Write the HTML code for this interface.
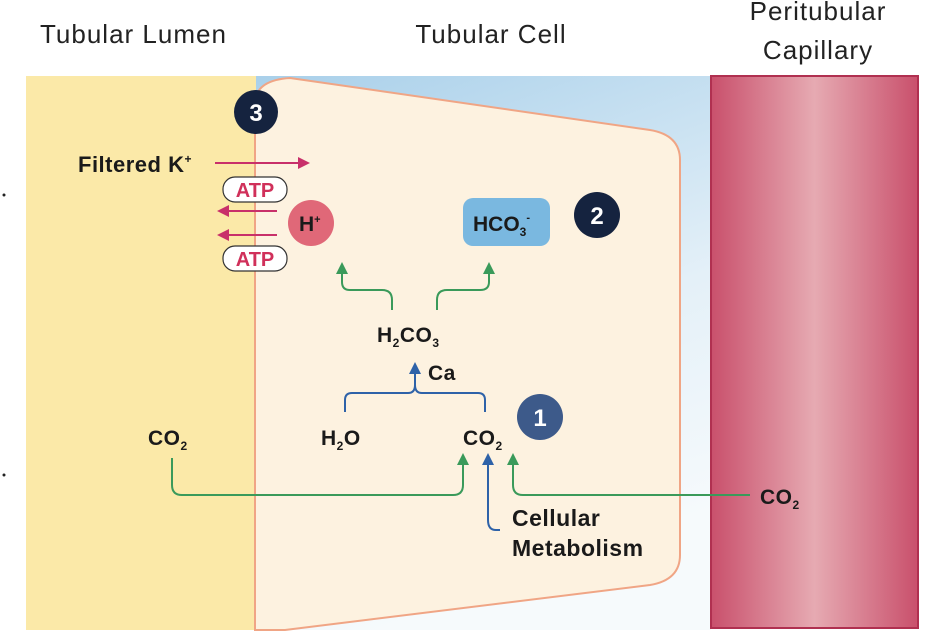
<!DOCTYPE html>
<html><head><meta charset="utf-8"><style>
html,body{margin:0;padding:0;background:#fff;}
svg{display:block;font-family:"Liberation Sans",sans-serif;}
</style></head><body>
<svg width="928" height="642" viewBox="0 0 928 642" xmlns="http://www.w3.org/2000/svg">
<defs>
<linearGradient id="bg" x1="0" y1="0" x2="0.3" y2="1">
<stop offset="0" stop-color="#a9d0ea"/><stop offset="0.6" stop-color="#e4f0f8"/><stop offset="1" stop-color="#f6fafc"/>
</linearGradient>
<linearGradient id="cap" x1="0" y1="0" x2="1" y2="0">
<stop offset="0" stop-color="#c9506c"/><stop offset="0.5" stop-color="#e6aab2"/><stop offset="1" stop-color="#c9506c"/>
</linearGradient>
<marker id="ag" markerWidth="12" markerHeight="12" refX="4" refY="6" orient="auto" markerUnits="userSpaceOnUse"><path d="M0,0 L12,6 L0,12 Z" fill="#3a9a5a"/></marker>
<marker id="ab" markerWidth="12" markerHeight="12" refX="4" refY="6" orient="auto" markerUnits="userSpaceOnUse"><path d="M0,0 L12,6 L0,12 Z" fill="#2e62a8"/></marker>
<marker id="ar" markerWidth="12" markerHeight="12" refX="4" refY="6" orient="auto" markerUnits="userSpaceOnUse"><path d="M0,0 L12,6 L0,12 Z" fill="#c8306a"/></marker>
</defs>
<g font-size="26" fill="#222" letter-spacing="1">
<text x="40" y="43">Tubular Lumen</text>
<text x="491" y="43" text-anchor="middle">Tubular Cell</text>
<text x="818" y="20" text-anchor="middle">Peritubular</text>
<text x="818" y="59" text-anchor="middle">Capillary</text>
</g>
<circle cx="4" cy="195" r="1.5" fill="#222"/><circle cx="4" cy="475" r="1.5" fill="#222"/>
<rect x="255" y="76" width="456" height="554" fill="url(#bg)"/>
<rect x="26" y="76" width="230" height="554" fill="#fbe9a8"/>
<path d="M255 630 V100 Q258 80 290 78 L650 130 Q680 135 680 160 V555 Q680 580 650 585 L285 630 Z" fill="#fdf2e0" stroke="#f0a585" stroke-width="2"/>
<rect x="711" y="76" width="207" height="552" fill="url(#cap)" stroke="#b03050" stroke-width="2"/>
<g font-weight="bold" fill="#fff" font-size="24" text-anchor="middle">
<circle cx="256" cy="112" r="22" fill="#15233f"/><text x="256" y="121">3</text>
<circle cx="597" cy="215" r="23" fill="#15233f"/><text x="597" y="224">2</text>
<circle cx="540" cy="417" r="23" fill="#3d5a8a"/><text x="540" y="426">1</text>
</g>
<g stroke="#c8306a" stroke-width="2" fill="none">
<path d="M215 163 H302" marker-end="url(#ar)"/>
<path d="M277 211 H225" marker-end="url(#ar)"/>
<path d="M277 235 H225" marker-end="url(#ar)"/>
</g>
<text x="78" y="172" font-size="22" font-weight="bold" fill="#1a1a1a" letter-spacing="0.5">Filtered K<tspan font-size="12" dy="-9">+</tspan></text>
<rect x="223" y="177" width="64" height="25" rx="12" fill="#fff" stroke="#333" stroke-width="1.2"/>
<text x="255" y="197" text-anchor="middle" font-size="20" font-weight="bold" fill="#d0305a">ATP</text>
<rect x="223" y="246" width="64" height="25" rx="12" fill="#fff" stroke="#333" stroke-width="1.2"/>
<text x="255" y="266" text-anchor="middle" font-size="20" font-weight="bold" fill="#d0305a">ATP</text>
<circle cx="311" cy="223" r="23" fill="#e06878"/>
<text x="299" y="231" font-size="21" font-weight="bold" fill="#1a1a1a">H<tspan font-size="11" dy="-8">+</tspan></text>
<rect x="463" y="198" width="87" height="48" rx="10" fill="#7ab8e0"/>
<text x="473" y="231" font-size="21" font-weight="bold" fill="#1a1a1a">HCO<tspan font-size="12" dy="5">3</tspan><tspan font-size="11" dy="-15">-</tspan></text>
<g stroke="#3a9a5a" stroke-width="2" fill="none">
<path d="M392 310 V300 Q392 290 382 290 H350 Q342 290 342 282 V270" marker-end="url(#ag)"/>
<path d="M437 310 V300 Q437 290 447 290 H480 Q489 290 489 282 V270" marker-end="url(#ag)"/>
<path d="M172 458 V485 Q172 495 182 495 H453 Q463 495 463 485 V461" marker-end="url(#ag)"/>
<path d="M750 495 H523 Q513 495 513 485 V461" marker-end="url(#ag)"/>
</g>
<g stroke="#2e62a8" stroke-width="2" fill="none">
<path d="M345 412 V400 Q345 393 352 393 H408 Q415 393 415 385 V370" marker-end="url(#ab)"/>
<path d="M485 412 V400 Q485 393 478 393 H422 Q415 393 415 385"/>
<path d="M500 530 H496 Q488 530 488 520 V461" marker-end="url(#ab)"/>
</g>
<g font-size="21" font-weight="bold" fill="#1a1a1a" letter-spacing="0.5">
<text x="377" y="342">H<tspan font-size="12" dy="5">2</tspan><tspan dy="-5">CO</tspan><tspan font-size="12" dy="5">3</tspan></text>
<text x="428" y="380">Ca</text>
<text x="321" y="445">H<tspan font-size="12" dy="5">2</tspan><tspan dy="-5">O</tspan></text>
<text x="463" y="445">CO<tspan font-size="12" dy="5">2</tspan></text>
<text x="148" y="445">CO<tspan font-size="12" dy="5">2</tspan></text>
<text x="760" y="504">CO<tspan font-size="12" dy="5">2</tspan></text>
<text x="512" y="526" font-size="23">Cellular</text>
<text x="512" y="556" font-size="23">Metabolism</text>
</g>
</svg>
</body></html>
